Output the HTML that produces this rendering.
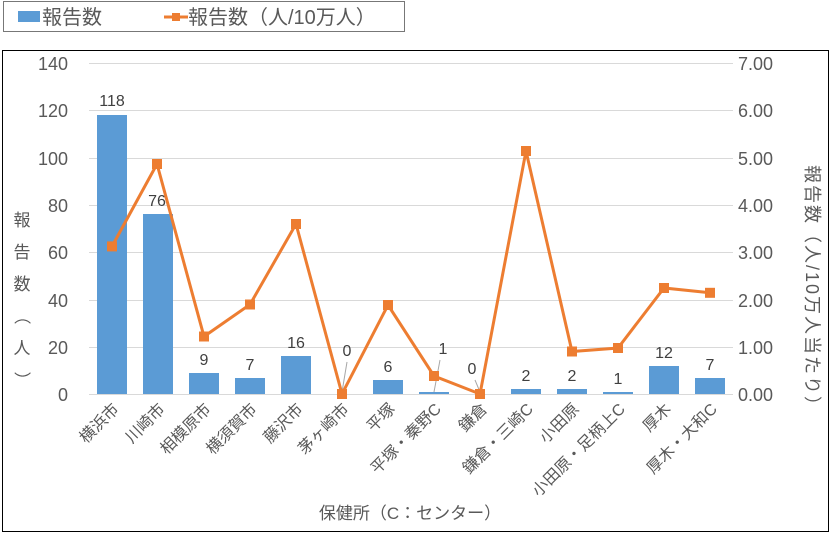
<!DOCTYPE html><html><head><meta charset="utf-8"><style>
body{margin:0;background:#fff;width:832px;height:533px;overflow:hidden;font-family:"Liberation Sans","Noto Sans CJK JP",sans-serif}
</style></head><body>
<svg width="832" height="533" xmlns="http://www.w3.org/2000/svg" font-family="Liberation Sans, Noto Sans CJK JP, sans-serif">
<rect x="3.5" y="1.5" width="401" height="30" fill="#fff" stroke="#777" stroke-width="1"/>
<rect x="18" y="11" width="22" height="11" fill="#5b9bd5"/>
<text x="42" y="24" font-size="20" fill="#595959">報告数</text>
<line x1="164" y1="17" x2="188" y2="17" stroke="#ed7d31" stroke-width="3"/>
<rect x="172" y="13" width="8" height="8" fill="#ed7d31"/>
<text x="188" y="24" font-size="20" fill="#595959">報告数（人/10万人）</text>
<rect x="2.5" y="50.5" width="826" height="481" fill="#fff" stroke="#000" stroke-width="1"/>
<g stroke="#d9d9d9" stroke-width="1">
<line x1="89" x2="733" y1="63.5" y2="63.5"/><line x1="89" x2="733" y1="110.5" y2="110.5"/><line x1="89" x2="733" y1="158.5" y2="158.5"/><line x1="89" x2="733" y1="205.5" y2="205.5"/><line x1="89" x2="733" y1="252.5" y2="252.5"/><line x1="89" x2="733" y1="300.5" y2="300.5"/><line x1="89" x2="733" y1="347.5" y2="347.5"/><line x1="89" x2="733" y1="394.5" y2="394.5"/>
</g>
<g font-size="18" fill="#595959" text-anchor="end">
<text x="68" y="70">140</text><text x="68" y="117">120</text><text x="68" y="165">100</text><text x="68" y="212">80</text><text x="68" y="259">60</text><text x="68" y="307">40</text><text x="68" y="354">20</text><text x="68" y="401">0</text>
</g>
<g font-size="18" fill="#595959">
<text x="738" y="70">7.00</text><text x="738" y="117">6.00</text><text x="738" y="165">5.00</text><text x="738" y="212">4.00</text><text x="738" y="259">3.00</text><text x="738" y="307">2.00</text><text x="738" y="354">1.00</text><text x="738" y="401">0.00</text>
</g>
<g fill="#5b9bd5">
<rect x="97" y="115" width="30" height="279"/>
<rect x="143" y="214" width="30" height="180"/>
<rect x="189" y="373" width="30" height="21"/>
<rect x="235" y="378" width="30" height="16"/>
<rect x="281" y="356" width="30" height="38"/>
<rect x="373" y="380" width="30" height="14"/>
<rect x="419" y="392" width="30" height="2"/>
<rect x="511" y="389" width="30" height="5"/>
<rect x="557" y="389" width="30" height="5"/>
<rect x="603" y="392" width="30" height="2"/>
<rect x="649" y="366" width="30" height="28"/>
<rect x="695" y="378" width="30" height="16"/>
</g>
<g stroke="#a6a6a6" stroke-width="1"><line x1="347" y1="362" x2="342" y2="392"/><line x1="440" y1="360" x2="434" y2="392"/><line x1="475" y1="380" x2="480" y2="392"/></g>
<g font-size="16" fill="#404040" text-anchor="middle">
<text x="112" y="106">118</text><text x="157" y="206">76</text><text x="204" y="365">9</text><text x="250" y="370">7</text><text x="296" y="348">16</text><text x="347" y="356">0</text><text x="388" y="372">6</text><text x="443" y="354">1</text><text x="472" y="374">0</text><text x="526" y="381">2</text><text x="572" y="381">2</text><text x="618" y="384">1</text><text x="664" y="358">12</text><text x="710" y="370">7</text>
</g>
<polyline fill="none" stroke="#ed7d31" stroke-width="3" points="112,246.4 157,164 204,336.5 250,304.5 296,224 342,394 388,305 434,376 480,394 526,151 572,351.5 618,348 664,288 710,292.8"/>
<g fill="#ed7d31">
<rect x="107" y="241.4" width="10" height="10"/><rect x="152" y="159" width="10" height="10"/><rect x="199" y="331.5" width="10" height="10"/><rect x="245" y="299.5" width="10" height="10"/><rect x="291" y="219" width="10" height="10"/><rect x="337" y="389" width="10" height="10"/><rect x="383" y="300" width="10" height="10"/><rect x="429" y="371" width="10" height="10"/><rect x="475" y="389" width="10" height="10"/><rect x="521" y="146" width="10" height="10"/><rect x="567" y="346.5" width="10" height="10"/><rect x="613" y="343" width="10" height="10"/><rect x="659" y="283" width="10" height="10"/><rect x="705" y="287.8" width="10" height="10"/>
</g>
<g font-size="16" fill="#595959" text-anchor="end">
<text transform="translate(120,410) rotate(-45)">横浜市</text>
<text transform="translate(166,410) rotate(-45)">川崎市</text>
<text transform="translate(212,410) rotate(-45)">相模原市</text>
<text transform="translate(258,410) rotate(-45)">横須賀市</text>
<text transform="translate(304,410) rotate(-45)">藤沢市</text>
<text transform="translate(350,410) rotate(-45)">茅ヶ崎市</text>
<text transform="translate(396,410) rotate(-45)">平塚</text>
<text transform="translate(442,410) rotate(-45)">平塚・秦野C</text>
<text transform="translate(488,410) rotate(-45)">鎌倉</text>
<text transform="translate(534,410) rotate(-45)">鎌倉・三崎C</text>
<text transform="translate(580,410) rotate(-45)">小田原</text>
<text transform="translate(626,410) rotate(-45)">小田原・足柄上C</text>
<text transform="translate(672,410) rotate(-45)">厚木</text>
<text transform="translate(718,410) rotate(-45)">厚木・大和C</text>
</g>
<text x="410" y="519" font-size="17" fill="#595959" text-anchor="middle">保健所（C：センター）</text>
<g font-size="17" fill="#595959" text-anchor="middle">
<text x="22" y="226">報</text><text x="22" y="258">告</text><text x="22" y="290">数</text><text x="22" y="322" transform="rotate(90 22 316)">（</text><text x="22" y="354">人</text><text x="22" y="386" transform="rotate(90 22 380)">）</text>
</g>
<text x="0" y="0" font-size="18" letter-spacing="2" fill="#595959" transform="translate(806,165) rotate(90)">報告数（人/10万人当たり）</text>
</svg>
</body></html>
